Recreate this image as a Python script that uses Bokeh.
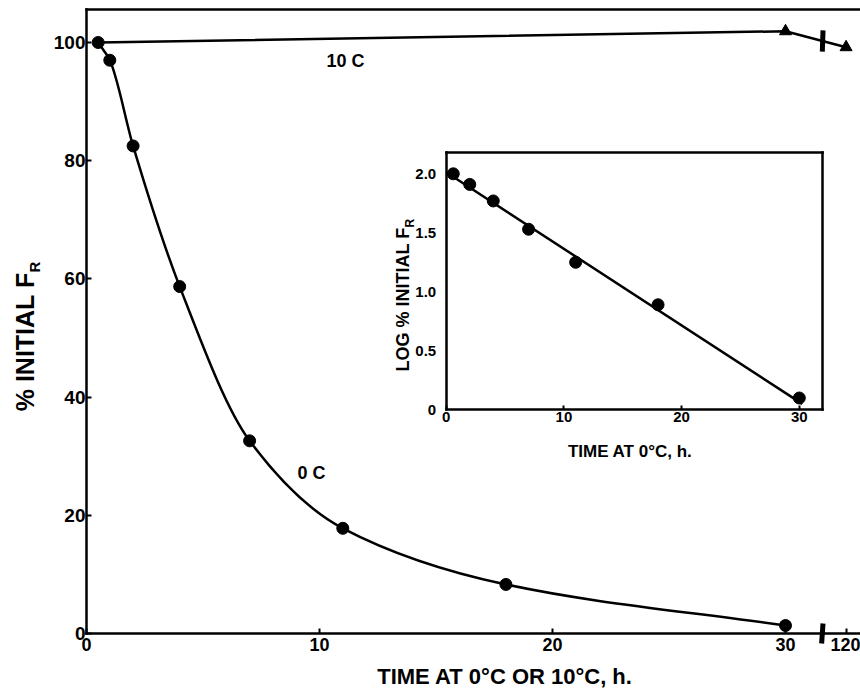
import math
import numpy as np
from bokeh.plotting import figure
from bokeh.models import Range1d, LinearAxis, FixedTicker, Label
from bokeh.embed import file_html
from bokeh.resources import INLINE

# ---------------- data ----------------
time_0C = [0.5, 1, 2, 4, 7, 11, 18, 30]
pct_0C = [100, 97, 82.5, 58.7, 32.6, 17.8, 8.3, 1.35]
time_10C = [0.5, 30, 120]
pct_10C = [100, 101.9, 99.2]

inset_time = [0.6, 2, 4, 7, 11, 18, 30]
inset_log = [2.0, 1.91, 1.77, 1.53, 1.25, 0.89, 0.10]
fit_time = [0, 30.25]
fit_log = [2.013, 0.05]

main_x_ticks = [0, 10, 20, 30, 120]
main_y_ticks = [0, 20, 40, 60, 80, 100]
inset_x_ticks = [0, 10, 20, 30]
inset_y_ticks = [0, 0.5, 1.0, 1.5, 2.0]
inset_y_labels = ["0", "0.5", "1.0", "1.5", "2.0"]

x_title = "TIME AT 0\u00b0C OR 10\u00b0C, h."
y_title = "% INITIAL F"
inset_x_title = "TIME  AT 0\u00b0C, h."
inset_y_title = "LOG % INITIAL F"
sub_R = "R"
label_10C = "10 C"
label_0C = "0 C"

# ---------------- geometry (pixels) ----------------
W, H = 860, 691
MX0, MY0 = 86.0, 633.0          # main origin on the page
MSX, MSY = 23.3, 5.91           # main px per unit
MAIN_XMAX, MAIN_YMAX = 33.22, 105.58
IX0, IY0 = 445.7, 409.3         # inset origin on the page
ISX, ISY = 11.77, 118.0         # inset px per unit
INSET_XMAX, INSET_YMAX = 31.95, 2.183

BREAK_AT = 31.58   # axis break position
POS_120 = 32.6     # axis position standing for 120 h


def broken_x(t):
    return t if t <= 30 else POS_120 + (t - 120) * 0.02


FONT = "Liberation Sans"

p = figure(width=W, height=H,
           x_range=Range1d(-MX0 / MSX, (W - MX0) / MSX),
           y_range=Range1d(-(H - MY0) / MSY, MY0 / MSY),
           output_backend="svg", toolbar_location=None,
           x_axis_location=None, y_axis_location=None,
           min_border_left=0, min_border_right=0, min_border_top=0, min_border_bottom=0,
           outline_line_color=None)
p.xgrid.visible = False
p.ygrid.visible = False
p.extra_x_ranges = {"ix": Range1d(-IX0 / ISX, (W - IX0) / ISX)}
p.extra_y_ranges = {"iy": Range1d(-(H - IY0) / ISY, IY0 / ISY)}


def style_axis(ax, size, standoff, tick_in):
    ax.axis_line_width = 2.5
    ax.axis_line_color = "black"
    ax.axis_line_cap = "square"
    ax.major_tick_in = tick_in
    ax.major_tick_out = 0
    ax.major_tick_line_width = 2
    ax.minor_tick_in = 0
    ax.minor_tick_out = 0
    ax.major_label_text_font = FONT
    ax.major_label_text_font_style = "bold"
    ax.major_label_text_font_size = size
    ax.major_label_text_color = "black"
    ax.major_label_standoff = standoff


def bare_axis(**kw):
    ax = LinearAxis(ticker=FixedTicker(ticks=[]), major_label_text_font_size="0px", **kw)
    ax.axis_line_width = 2.5
    ax.axis_line_color = "black"
    ax.axis_line_cap = "square"
    ax.major_tick_in = ax.major_tick_out = 0
    ax.minor_tick_in = ax.minor_tick_out = 0
    return ax


# ---- main axes ----
xpos = [broken_x(t) for t in main_x_ticks]
xax = LinearAxis(ticker=FixedTicker(ticks=xpos), fixed_location=0, bounds=(0, MAIN_XMAX))
xax.major_label_overrides = {x: str(t) for x, t in zip(xpos, main_x_ticks)}
style_axis(xax, "18px", 4, 5)
p.add_layout(xax, "below")

yax = LinearAxis(ticker=FixedTicker(ticks=main_y_ticks), fixed_location=0, bounds=(0, MAIN_YMAX))
style_axis(yax, "19px", 1, 5)
p.add_layout(yax, "left")

p.add_layout(bare_axis(fixed_location=MAIN_YMAX, bounds=(0, MAIN_XMAX)), "above")

# smooth 0 C curve (monotone cubic Hermite as Bezier segments)
tx = np.asarray(time_0C, float)
ty = np.asarray(pct_0C, float)
h = np.diff(tx)
d = np.diff(ty) / h
m = np.zeros(len(tx))
for k in range(1, len(tx) - 1):
    if d[k - 1] * d[k] <= 0:
        m[k] = 0
    else:
        w1 = 2 * h[k] + h[k - 1]
        w2 = h[k] + 2 * h[k - 1]
        m[k] = (w1 + w2) / (w1 / d[k - 1] + w2 / d[k])
m[0] = d[0]
m[-1] = d[-1]
p.bezier(x0=tx[:-1], y0=ty[:-1], x1=tx[1:], y1=ty[1:],
         cx0=tx[:-1] + h / 3, cy0=ty[:-1] + m[:-1] * h / 3,
         cx1=tx[1:] - h / 3, cy1=ty[1:] - m[1:] * h / 3,
         line_color="black", line_width=2.5)
p.scatter(time_0C, pct_0C, marker="circle", size=12, color="black")

# 10 C line
x10 = [broken_x(t) for t in time_10C]
p.line(x10, pct_10C, line_color="black", line_width=2.5)
p.scatter(x10[1:], pct_10C[1:], marker="triangle", size=12, color="black")

# break marks (on the 10 C line and on the time axis)
yb = float(np.interp(BREAK_AT, x10[1:], pct_10C[1:]))
p.segment(x0=[BREAK_AT, BREAK_AT - 0.03], y0=[yb - 1.8, -1.7],
          x1=[BREAK_AT + 0.03, BREAK_AT + 0.03], y1=[yb + 1.8, 1.7],
          line_color="black", line_width=5)


def lab(x, y, text, size, **kw):
    kw.setdefault("text_align", "center")
    kw.setdefault("text_baseline", "middle")
    p.add_layout(Label(x=x, y=y, text=text, text_font=FONT, text_font_style="bold",
                       text_font_size=size, text_color="black", **kw))


lab(11.12, 96.8, label_10C, "18px")
lab(9.66, 27.1, label_0C, "18px")
lab(17.96, -7.3, x_title, "22px")
lab(-2.66, 61.1, y_title, "25px", angle=math.pi / 2, text_align="right")
lab(-2.25, 61.1, sub_R, "15px", angle=math.pi / 2, text_align="left")

# ---------------- inset (own ranges, own axes) ----------------
ixax = LinearAxis(x_range_name="ix", y_range_name="iy", ticker=FixedTicker(ticks=inset_x_ticks),
                  fixed_location=0, bounds=(0, INSET_XMAX))
style_axis(ixax, "15px", 2, 4)
p.add_layout(ixax, "below")
iyax = LinearAxis(x_range_name="ix", y_range_name="iy", ticker=FixedTicker(ticks=inset_y_ticks),
                  fixed_location=0, bounds=(0, INSET_YMAX))
iyax.major_label_overrides = {v: s for v, s in zip(inset_y_ticks, inset_y_labels)}
style_axis(iyax, "15px", 10, 0)
p.add_layout(iyax, "left")
p.add_layout(bare_axis(x_range_name="ix", y_range_name="iy", fixed_location=INSET_YMAX,
                       bounds=(0, INSET_XMAX)), "above")
p.add_layout(bare_axis(x_range_name="ix", y_range_name="iy", fixed_location=INSET_XMAX,
                       bounds=(0, INSET_YMAX)), "right")

p.line(fit_time, fit_log, x_range_name="ix", y_range_name="iy", line_color="black", line_width=2.5)
p.scatter(inset_time, inset_log, x_range_name="ix", y_range_name="iy",
          marker="circle", size=12, color="black")

lab(15.83, -0.353, inset_x_title, "17px", x_range_name="ix", y_range_name="iy")
lab(-3.71, 1.545, inset_y_title, "18px", angle=math.pi / 2, text_align="right",
    x_range_name="ix", y_range_name="iy")
lab(-3.05, 1.545, sub_R, "12px", angle=math.pi / 2, text_align="left",
    x_range_name="ix", y_range_name="iy")

open("out.html", "w").write(file_html(p, INLINE))
